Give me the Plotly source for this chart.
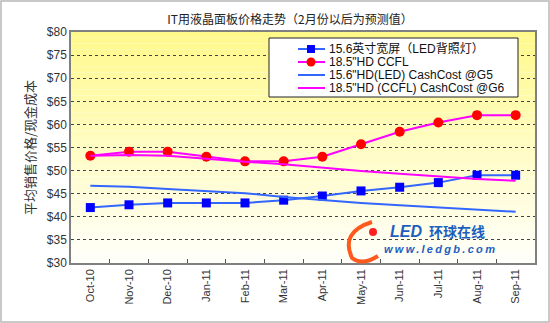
import plotly.graph_objects as go

months = ["Oct-10", "Nov-10", "Dec-10", "Jan-11", "Feb-11", "Mar-11",
          "Apr-11", "May-11", "Jun-11", "Jul-11", "Aug-11", "Sep-11"]
led_156 = [42.0, 42.6, 43.0, 43.0, 43.0, 43.6, 44.5, 45.6, 46.4, 47.4, 49.0, 49.0]
ccfl_185 = [53.2, 54.1, 54.1, 53.0, 52.0, 52.0, 53.0, 55.7, 58.4, 60.4, 62.0, 62.0]
cost_g5 = [46.7, 46.5, 46.0, 45.6, 45.1, 44.3, 43.6, 43.0, 42.5, 42.0, 41.6, 41.1]
cost_g6 = [53.2, 53.4, 53.2, 52.5, 51.9, 51.4, 50.6, 49.9, 49.3, 48.7, 48.2, 47.8]
names = ["15.6英寸宽屏（LED背照灯）", '18.5"HD CCFL',
         '15.6"HD(LED) CashCost @G5', '18.5"HD (CCFL) CashCost @G6']
yticks = [30, 35, 40, 45, 50, 55, 60, 65, 70, 75, 80]
ytick_text = ["$%d" % v for v in yticks]

W, H = 550, 323
L, R, T, B = 71, 15, 32, 60
PW, PH = W - L - R, H - T - B

def px(x):
    return (x - L) / PW

def py(y):
    return (H - B - y) / PH

FONT = "Liberation Sans, Arial, Noto Sans CJK SC, sans-serif"
CJK = "Noto Sans CJK SC, Liberation Sans, sans-serif"
LEG = "Liberation Sans, Arial, Noto Sans CJK SC, sans-serif"

BLUE_LINE = "#3366FF"
MAG_LINE = "#FF00FF"

fig = go.Figure()
fig.add_trace(go.Scatter(x=months, y=led_156, name=names[0], mode="lines+markers",
                         line=dict(color=BLUE_LINE, width=2),
                         marker=dict(symbol="square", size=9, color="#0000FF")))
fig.add_trace(go.Scatter(x=months, y=ccfl_185, name=names[1], mode="lines+markers",
                         line=dict(color=MAG_LINE, width=2),
                         marker=dict(symbol="circle", size=10, color="#FF0000")))
fig.add_trace(go.Scatter(x=months, y=cost_g5, name=names[2], mode="lines",
                         line=dict(color=BLUE_LINE, width=2)))
fig.add_trace(go.Scatter(x=months, y=cost_g6, name=names[3], mode="lines",
                         line=dict(color=MAG_LINE, width=2)))

shapes = []
# gradient background of plot area
n = 40
top = (255, 249, 140)
bot = (255, 255, 250)
for i in range(n):
    f = i / (n - 1)
    c = tuple(int(round(top[k] + (bot[k] - top[k]) * f)) for k in range(3))
    shapes.append(dict(type="rect", xref="x domain", yref="y domain",
                       x0=0, x1=1, y0=1 - (i + 1) / n, y1=1 - i / n,
                       fillcolor="rgb(%d,%d,%d)" % c, line=dict(width=0), layer="below"))
# outer border
shapes.append(dict(type="rect", xref="paper", yref="paper",
                   x0=px(1), x1=px(549), y0=py(322), y1=py(1),
                   line=dict(color="#B8B8B8", width=1.5), fillcolor="rgba(0,0,0,0)"))
# logo swirl
shapes.append(dict(type="path", xref="paper", yref="paper",
                   path="M %f %f Q %f %f %f %f Q %f %f %f %f" % (
                       px(372), py(222), px(340), py(232), px(352), py(258),
                       px(362), py(266), px(378), py(256)),
                   line=dict(color="#FF5A1E", width=4), fillcolor="rgba(0,0,0,0)"))
shapes.append(dict(type="circle", xref="paper", yref="paper",
                   x0=px(369), x1=px(377), y0=py(236), y1=py(228),
                   fillcolor="#FF2020", line=dict(width=0)))

# manual legend (compact, like the original)
shapes.append(dict(type="rect", xref="paper", yref="paper",
                   x0=px(269), x1=px(518), y0=py(97), y1=py(38),
                   fillcolor="white", line=dict(color="#222222", width=1)))
rows = [49, 62, 75, 88]
line_cols = [BLUE_LINE, MAG_LINE, BLUE_LINE, MAG_LINE]
annotations = []
for i, (ry, lc) in enumerate(zip(rows, line_cols)):
    shapes.append(dict(type="line", xref="paper", yref="paper",
                       x0=px(298), x1=px(325), y0=py(ry), y1=py(ry),
                       line=dict(color=lc, width=2)))
    annotations.append(dict(text=names[i], x=px(327), y=py(ry), xref="paper", yref="paper",
                            xanchor="left", yanchor="middle", showarrow=False,
                            font=dict(family=LEG, size=12, color="#111111")))
shapes.append(dict(type="rect", xref="paper", yref="paper",
                   x0=px(307), x1=px(315), y0=py(53), y1=py(45),
                   fillcolor="#0000FF", line=dict(width=0)))
shapes.append(dict(type="circle", xref="paper", yref="paper",
                   x0=px(306.5), x1=px(315.5), y0=py(66.5), y1=py(57.5),
                   fillcolor="#FF0000", line=dict(width=0)))

annotations += [
    dict(text="LED", x=px(388), y=py(231), xref="paper", yref="paper",
         xanchor="left", yanchor="middle", showarrow=False,
         font=dict(family="Liberation Sans, Arial", size=16, color="#1E5EBF", weight="bold", style="italic")),
    dict(text="环球在线", x=px(427), y=py(231), xref="paper", yref="paper",
         xanchor="left", yanchor="middle", showarrow=False,
         font=dict(family=CJK, size=14, color="#1E5EBF", weight="bold")),
    dict(text='<span style="letter-spacing:2.3px">www.ledgb.com</span>', x=px(382), y=py(249),
         xref="paper", yref="paper",
         xanchor="left", yanchor="middle", showarrow=False,
         font=dict(family="Liberation Sans, Arial", size=11, color="#1E5EBF", weight="bold", style="italic")),
]

fig.update_layout(
    width=W, height=H,
    margin=dict(l=L, r=R, t=T, b=B),
    paper_bgcolor="white",
    plot_bgcolor="rgba(0,0,0,0)",
    title=dict(text="IT用液晶面板价格走势（2月份以后为预测值）", x=290 / W, xanchor="center",
               y=1 - 20 / H, yanchor="middle",
               font=dict(family=CJK, size=12, color="#222222")),
    showlegend=False,
    shapes=shapes,
    annotations=annotations,
    xaxis=dict(type="category", range=[-0.5, 11.5], showgrid=False,
               tickangle=-90, ticks="inside", ticklen=4, tickcolor="#555555",
               tickson="boundaries", showline=True, linecolor="#808080", linewidth=1.5,
               mirror=True, tickfont=dict(family=FONT, size=11, color="#333333"),
               zeroline=False),
    yaxis=dict(range=[30, 80], tickvals=yticks, ticktext=ytick_text,
               showgrid=True, gridcolor="#444444", gridwidth=1, griddash="dot",
               showline=True, linecolor="#808080", linewidth=1.5, mirror=True,
               ticks="", tickfont=dict(family=FONT, size=12, color="#333333"),
               title=dict(text="平均销售价格/现金成本", standoff=8,
                          font=dict(family=CJK, size=13, color="#333333")),
               zeroline=False),
)

fig.write_html("out.html")
